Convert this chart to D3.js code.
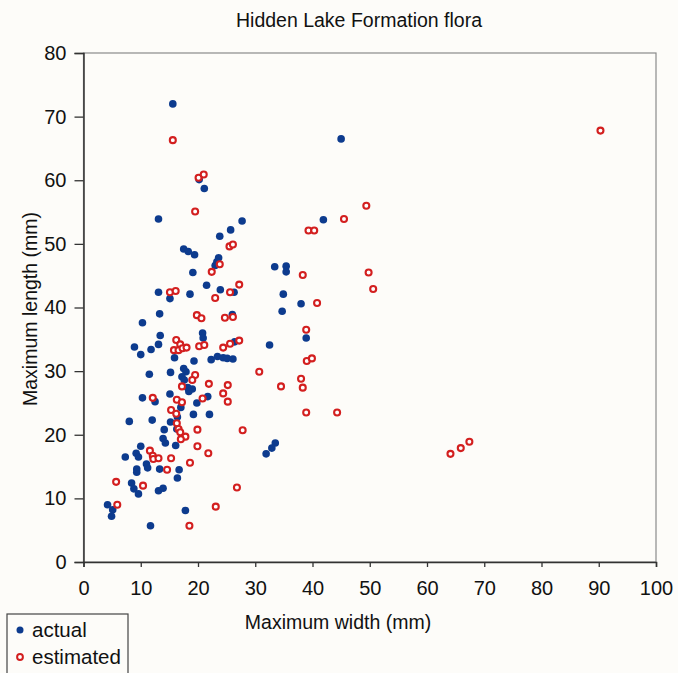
<!DOCTYPE html>
<html>
<head>
<meta charset="utf-8">
<script src="https://cdn.jsdelivr.net/npm/d3@7"></script>
<style>
  body { margin: 0; background: #fdfcf9; }
  svg { display: block; font-family: "Liberation Sans", Arial, sans-serif; }
</style>
</head>
<body>
<svg id="chart"></svg>
<script>
/**
 * Data (width mm, length mm).
 */
var actualWidth = [
    15.6, 13.1, 17.5, 18.3, 19.4, 19.1, 13.1, 15.1, 18.6, 13.3, 10.3, 13.4, 13.1, 11.8, 8.9, 10.0,
    15.9, 11.5, 15.2, 17.5, 17.9, 17.2, 17.6, 15.1, 10.3, 20.2, 21.1, 27.7, 25.7, 23.8, 23.6, 23.3,
    23.0, 21.5, 23.9, 26.3, 26.0, 20.8, 20.9, 26.4, 22.3, 23.4, 24.4, 25.1, 26.1, 19.3, 18.2, 19.0,
    18.4, 21.7, 19.8, 12.5, 17.0, 19.2, 22.0, 12.0, 15.2, 16.3, 14.1, 13.9, 14.3, 16.1, 16.4, 8.0,
    10.0, 9.2, 9.6, 7.3, 11.0, 11.2, 9.3, 9.3, 13.3, 16.7, 16.4, 8.4, 8.8, 9.6, 13.1, 13.9,
    4.2, 5.1, 4.9, 17.8, 11.7, 41.9, 33.4, 35.4, 35.4, 34.9, 38.0, 34.7, 38.9, 32.5, 33.5, 32.9,
    31.9, 45.0
];
var actualLength = [
    72.0, 53.9, 49.2, 48.8, 48.3, 45.5, 42.4, 41.4, 42.1, 39.0, 37.6, 35.6, 34.2, 33.4, 33.8, 32.6,
    32.1, 29.5, 29.8, 30.4, 29.9, 29.1, 28.6, 26.4, 25.8, 60.1, 58.7, 53.6, 52.2, 51.2, 47.8, 47.2,
    46.6, 43.5, 42.8, 42.4, 38.9, 36.0, 35.2, 34.6, 31.8, 32.3, 32.1, 32.0, 31.9, 31.6, 27.4, 27.2,
    26.8, 26.0, 25.0, 25.2, 24.3, 23.2, 23.2, 22.3, 22.0, 20.9, 20.8, 19.4, 18.7, 18.3, 22.8, 22.1,
    18.2, 17.1, 16.5, 16.5, 15.4, 14.8, 14.6, 14.1, 14.6, 14.5, 13.2, 12.4, 11.5, 10.7, 11.2, 11.6,
    9.0, 8.2, 7.2, 8.1, 5.7, 53.8, 46.4, 46.5, 45.6, 42.1, 40.6, 39.4, 35.2, 34.1, 18.7, 17.9,
    17.0, 66.5
];
var estimatedWidth = [
    15.6, 20.1, 21.0, 19.5, 25.5, 26.1, 23.8, 22.4, 27.2, 25.6, 23.0, 15.1, 16.1, 19.8, 20.6, 24.7,
    26.1, 16.2, 16.9, 15.8, 16.6, 17.3, 18.0, 20.2, 21.1, 24.4, 25.6, 27.2, 30.7, 19.5, 19.0, 21.9,
    17.2, 25.2, 24.4, 25.2, 12.1, 16.3, 17.2, 20.8, 15.3, 16.2, 16.3, 16.6, 16.9, 17.8, 17.0, 19.9,
    27.8, 19.9, 21.8, 11.6, 12.1, 12.2, 13.1, 15.3, 14.6, 18.6, 26.8, 23.1, 18.5, 5.7, 10.4, 5.9,
    49.4, 45.5, 39.3, 40.3, 38.3, 49.8, 50.6, 40.8, 38.9, 39.0, 39.9, 38.0, 34.5, 38.3, 38.9, 44.3,
    90.3, 64.1, 65.9, 67.4
];
var estimatedLength = [
    66.3, 60.4, 60.9, 55.1, 49.6, 49.9, 46.8, 45.6, 43.6, 42.4, 41.5, 42.4, 42.6, 38.8, 38.3, 38.4,
    38.5, 34.9, 34.2, 33.3, 33.3, 33.6, 33.7, 33.9, 34.1, 33.7, 34.3, 34.8, 29.9, 29.4, 28.6, 28.0,
    27.6, 27.8, 26.5, 25.2, 25.8, 25.5, 25.1, 25.7, 23.9, 23.3, 21.8, 20.9, 20.4, 19.7, 19.3, 20.8,
    20.7, 18.2, 17.1, 17.5, 16.7, 16.2, 16.3, 16.3, 14.5, 15.6, 11.7, 8.7, 5.7, 12.6, 12.0, 9.0,
    56.0, 53.9, 52.1, 52.1, 45.1, 45.5, 42.9, 40.7, 36.5, 31.6, 32.0, 28.8, 27.6, 27.4, 23.5, 23.5,
    67.8, 17.0, 17.9, 18.9
];
var xTicks = [0, 10, 20, 30, 40, 50, 60, 70, 80, 90, 100];
var yTicks = [0, 10, 20, 30, 40, 50, 60, 70, 80];
var seriesNames = ["actual", "estimated"];

var w = 678;
var h = 673;
var blue = "#0d3b8e";
var red = "#d31f1f";

var svg = d3.select("#chart").attr("width", w).attr("height", h);

var x = d3.scaleLinear().domain([0, 100]).range([83.5, 656]);
var y = d3.scaleLinear().domain([0, 80]).range([562, 53]);

// plot frame
svg.append("rect")
    .attr("x", x(0)).attr("y", y(80))
    .attr("width", x(100) - x(0)).attr("height", y(0) - y(80))
    .attr("fill", "none").attr("stroke", "#8a8a8a").attr("stroke-width", 1.2);

// axes
var xAxis = svg.append("g")
    .attr("transform", "translate(0," + y(0) + ")")
    .call(d3.axisBottom(x).tickValues(xTicks).tickSize(5).tickPadding(14));
var yAxis = svg.append("g")
    .attr("transform", "translate(" + x(0) + ",0)")
    .call(d3.axisLeft(y).tickValues(yTicks).tickSize(9).tickPadding(8));

[xAxis, yAxis].forEach(function(a) {
    a.select(".domain").attr("stroke", "#333").attr("stroke-width", 1.5);
    a.selectAll(".tick line").attr("stroke", "#333").attr("stroke-width", 1.3);
    a.selectAll(".tick text")
        .attr("fill", "#111")
        .style("font-size", "20px")
        .style("font-family", "Liberation Sans, Arial, sans-serif");
});

// points: actual first, estimated drawn on top
var actual = d3.range(actualWidth.length).map(function(i) {
    return [actualWidth[i], actualLength[i]];
});
var estimated = d3.range(estimatedWidth.length).map(function(i) {
    return [estimatedWidth[i], estimatedLength[i]];
});

svg.append("g").selectAll("circle")
    .data(actual)
    .enter()
    .append("circle")
    .attr("cx", function(d) { return x(d[0]); })
    .attr("cy", function(d) { return y(d[1]); })
    .attr("r", 3.8)
    .attr("fill", blue);

svg.append("g").selectAll("circle")
    .data(estimated)
    .enter()
    .append("circle")
    .attr("cx", function(d) { return x(d[0]); })
    .attr("cy", function(d) { return y(d[1]); })
    .attr("r", 3.0)
    .attr("fill", "#fff")
    .attr("stroke", red)
    .attr("stroke-width", 2.1);

// titles
svg.append("text")
    .attr("x", 359).attr("y", 27)
    .attr("text-anchor", "middle")
    .style("font-size", "19.5px")
    .attr("fill", "#111")
    .text("Hidden Lake Formation flora");

svg.append("text")
    .attr("x", 338).attr("y", 629)
    .attr("text-anchor", "middle")
    .style("font-size", "19.5px")
    .attr("fill", "#111")
    .text("Maximum width (mm)");

svg.append("text")
    .attr("transform", "translate(37,309) rotate(-90)")
    .attr("text-anchor", "middle")
    .style("font-size", "19.5px")
    .attr("fill", "#111")
    .text("Maximum length (mm)");

// legend
var legend = svg.append("g");
legend.append("rect")
    .attr("x", 7).attr("y", 614)
    .attr("width", 121).attr("height", 70)
    .attr("fill", "none").attr("stroke", "#444").attr("stroke-width", 1.2);

seriesNames.forEach(function(name, i) {
    var cy = 630 + i * 27;
    if (i === 0) {
        legend.append("circle").attr("cx", 20).attr("cy", cy).attr("r", 3.5).attr("fill", blue);
    } else {
        legend.append("circle").attr("cx", 20).attr("cy", cy).attr("r", 2.9)
            .attr("fill", "#fff").attr("stroke", red).attr("stroke-width", 2);
    }
    legend.append("text")
        .attr("x", 32).attr("y", cy + 7)
        .style("font-size", "20.5px")
        .attr("fill", "#111")
        .text(name);
});
</script>
</body>
</html>
